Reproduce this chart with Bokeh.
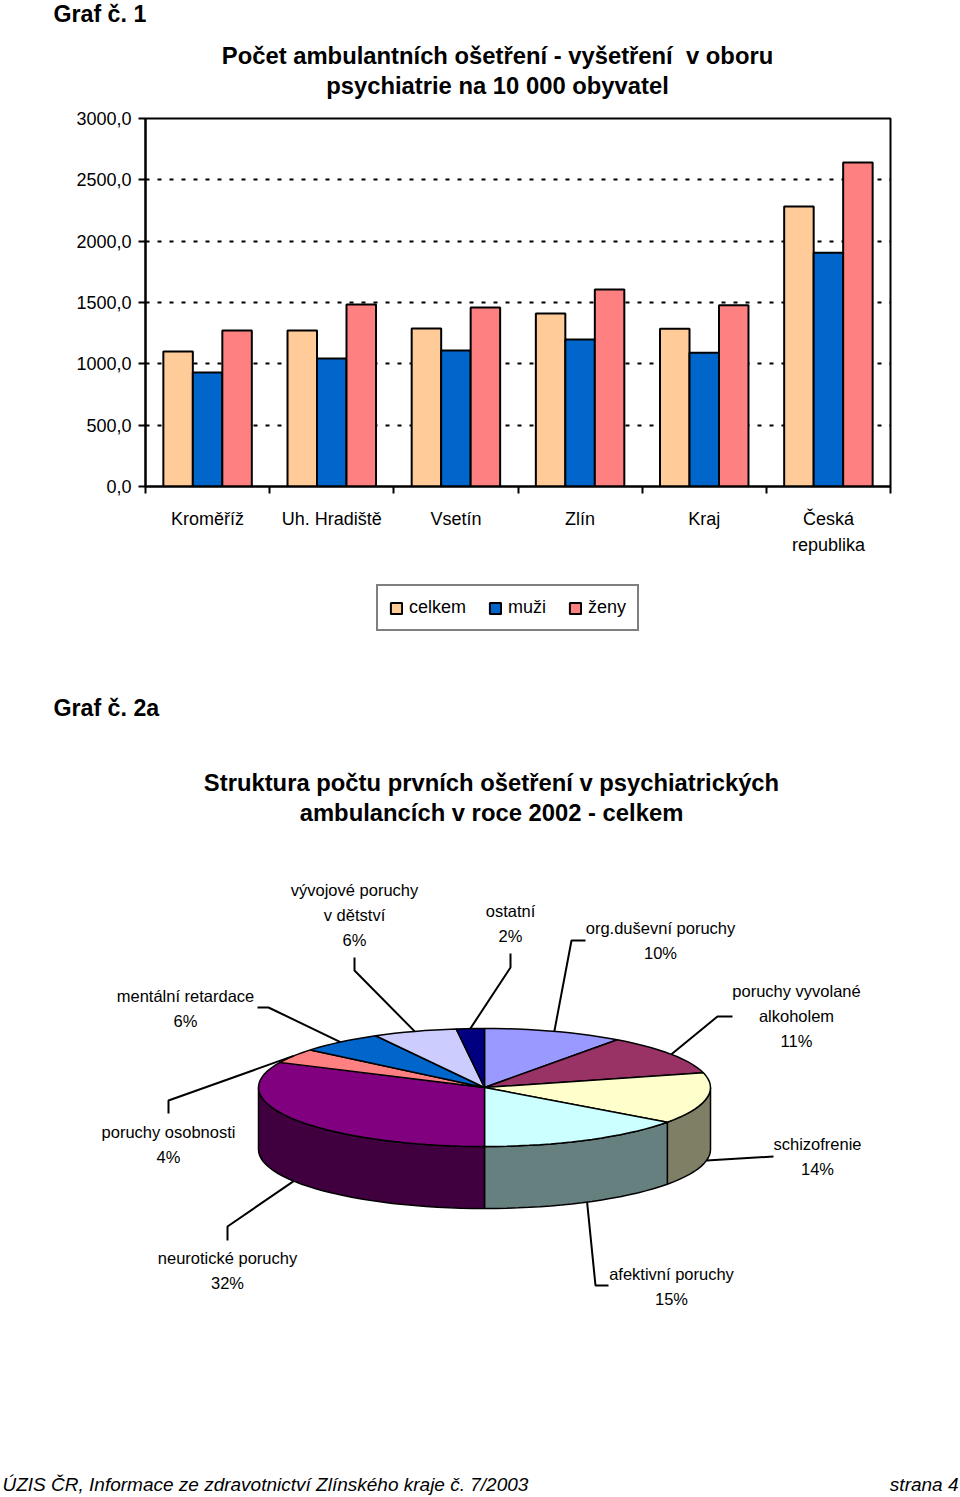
import math
from bokeh.plotting import figure
from bokeh.models import Range1d, FixedTicker, Legend, LegendItem
from bokeh.layouts import column
from bokeh.embed import file_html
from bokeh.resources import INLINE
from bokeh.core.properties import value

# ---------------- data ----------------
districts = ["Kroměříž", "Uh. Hradiště", "Vsetín", "Zlín", "Kraj", "Česká\nrepublika"]
series_names = ["celkem", "muži", "ženy"]
celkem = [1100, 1272, 1288, 1410, 1285, 2283]
muzi = [929, 1043, 1109, 1198, 1090, 1905]
zeny = [1272, 1484, 1459, 1606, 1478, 2641]
y_ticks = [0, 500, 1000, 1500, 2000, 2500, 3000]
y_tick_labels = ["0,0", "500,0", "1000,0", "1500,0", "2000,0", "2500,0", "3000,0"]

pie_labels = ["org.duševní poruchy", "poruchy vyvolané\nalkoholem", "schizofrenie",
              "afektivní poruchy", "neurotické poruchy", "poruchy osobnosti",
              "mentální retardace", "vývojové poruchy\nv dětství", "ostatní"]
pie_pct = [10, 11, 14, 15, 32, 4, 6, 6, 2]

title1 = ["Počet ambulantních ošetření - vyšetření\u00a0 v oboru", "psychiatrie na 10 000 obyvatel"]
title2 = ["Struktura počtu prvních ošetření v psychiatrických", "ambulancích v roce 2002 - celkem"]

# ---------------- styles ----------------
SANS = "Liberation Sans"
bar_colors = ["#FFCC99", "#0066CC", "#FF8080"]
pie_colors = ["#9999FF", "#993366", "#FFFFCC", "#CCFFFF", "#800080",
              "#FF8080", "#0066CC", "#CCCCFF", "#000080"]
W = 960


def darker(hexc):
    r, g, b = int(hexc[1:3], 16), int(hexc[3:5], 16), int(hexc[5:7], 16)
    return "#%02X%02X%02X" % (r // 2, g // 2, b // 2)


def blank(h):
    f = figure(width=W, height=h, x_range=Range1d(0, W), y_range=Range1d(h, 0),
               x_axis_type=None, y_axis_type=None, toolbar_location=None,
               output_backend="svg", min_border=0)
    f.outline_line_color = None
    f.frame_align = False
    return f


# ---------------- header of chart 1 ----------------
HDR_H = 100
hdr = blank(HDR_H)
hdr.text(x=[53], y=[13], text=["Graf č. 1"], text_font=value(SANS), text_font_style="bold",
         text_font_size="23.2px", text_baseline="middle", text_color="black")
hdr.text(x=[497, 497], y=[55, 85], text=title1, text_font=value(SANS), text_font_style="bold",
         text_font_size="23.8px", text_align="center", text_baseline="middle", text_color="black")

# ---------------- bar chart ----------------
BAR_TOP = 100
BAR_H = 470
p = figure(width=W, height=BAR_H, x_range=Range1d(0, 6), y_range=Range1d(0, 3000),
           toolbar_location=None, output_backend="svg",
           min_border_left=145, min_border_right=W - 890, min_border_top=118 - BAR_TOP,
           min_border_bottom=BAR_TOP + BAR_H - 486)
p.frame_align = False
bw = 0.2375
for k, vals in enumerate([celkem, muzi, zeny]):
    xs = [i + 0.5 + (k - 1) * bw for i in range(len(districts))]
    p.vbar(x=xs, top=vals, width=bw, fill_color=bar_colors[k], line_color="black", line_width=2)

p.outline_line_color = "black"
p.outline_line_width = 2
p.xgrid.visible = False
p.ygrid.ticker = FixedTicker(ticks=y_ticks)
p.ygrid.grid_line_color = "black"
p.ygrid.grid_line_width = 2
p.ygrid.grid_line_dash = "4 8"

p.yaxis.ticker = FixedTicker(ticks=y_ticks, minor_ticks=[])
p.yaxis.major_label_overrides = dict(zip(y_ticks, y_tick_labels))
p.yaxis.axis_line_width = 2
p.yaxis.major_tick_line_width = 2
p.yaxis.major_tick_out = 7
p.yaxis.major_tick_in = 0
p.yaxis.major_label_standoff = 7
p.yaxis.major_label_text_font = SANS
p.yaxis.major_label_text_font_size = "18px"
p.yaxis.major_label_text_color = "black"

centers = [i + 0.5 for i in range(len(districts))]
p.xaxis.ticker = FixedTicker(ticks=centers, minor_ticks=list(range(len(districts) + 1)))
p.xaxis.major_label_overrides = dict(zip(centers, districts))
p.xaxis.axis_line_width = 2
p.xaxis.major_tick_line_color = None
p.xaxis.major_tick_out = 7
p.xaxis.minor_tick_line_color = "black"
p.xaxis.minor_tick_line_width = 2
p.xaxis.minor_tick_out = 7
p.xaxis.minor_tick_in = 0
p.xaxis.major_label_standoff = 15
p.xaxis.major_label_text_font = SANS
p.xaxis.major_label_text_font_size = "18px"
p.xaxis.major_label_text_line_height = 1.3
p.xaxis.major_label_text_color = "black"

# ---------------- legend strip ----------------
LEG_TOP = BAR_TOP + BAR_H
LEG_H = 90
lg = blank(LEG_H)
leg_items = []
for k, s in enumerate(series_names):
    # legend proxy: same style as the bars, no visible bar
    r = lg.vbar(x=[0], top=[float("nan")], width=1, fill_color=bar_colors[k],
                line_color="black", line_width=2)
    leg_items.append(LegendItem(label=s, renderers=[r]))
legend = Legend(items=leg_items, orientation="horizontal",
                location=(376, LEG_TOP + LEG_H - 631),
                border_line_color="black", border_line_width=2,
                padding=11, spacing=22, label_standoff=6,
                glyph_width=14, glyph_height=14, label_height=18,
                label_text_font=SANS, label_text_font_size="18px",
                label_text_color="black", margin=0, background_fill_alpha=0)
lg.add_layout(legend)

# ---------------- pie chart ----------------
OY = LEG_TOP + LEG_H
PIE_H = 1497 - OY
q = blank(PIE_H)


def P(x, y):
    return x, y - OY


q.text(x=[53], y=[P(0, 707)[1]], text=["Graf č. 2a"], text_font=value(SANS), text_font_style="bold",
       text_font_size="23.2px", text_baseline="middle", text_color="black")
q.text(x=[491, 491], y=[P(0, 782)[1], P(0, 812)[1]], text=title2, text_font=value(SANS),
       text_font_style="bold", text_font_size="23.8px", text_align="center",
       text_baseline="middle", text_color="black")

cx, cy = P(484, 1087)
rx, ry, depth = 226, 59, 62


def ept(t, dy=0.0):
    return cx + rx * math.sin(t), cy - ry * math.cos(t) + dy


total = float(sum(pie_pct))
bounds = [0.0]
for v in pie_pct:
    bounds.append(bounds[-1] + 2 * math.pi * v / total)

side_xs, side_ys, side_cols = [], [], []
top_xs, top_ys = [], []
for i in range(len(pie_pct)):
    a0, a1 = bounds[i], bounds[i + 1]
    n = max(4, int(120 * (a1 - a0) / (2 * math.pi)) + 2)
    ts = [a0 + (a1 - a0) * j / (n - 1) for j in range(n)]
    pts = [ept(t) for t in ts]
    top_xs.append([cx] + [x for x, _ in pts])
    top_ys.append([cy] + [y for _, y in pts])
    lo, hi = max(a0, math.pi / 2), min(a1, 3 * math.pi / 2)
    if lo < hi:
        m = max(4, int(120 * (hi - lo) / (2 * math.pi)) + 2)
        ss = [lo + (hi - lo) * j / (m - 1) for j in range(m)]
        upper = [ept(t) for t in ss]
        lower = [ept(t, depth) for t in reversed(ss)]
        side_xs.append([x for x, _ in upper + lower])
        side_ys.append([y for _, y in upper + lower])
        side_cols.append(darker(pie_colors[i]))

q.patches(xs=side_xs, ys=side_ys, fill_color=side_cols, line_color="black", line_width=1.5)
q.patches(xs=top_xs, ys=top_ys, fill_color=pie_colors, line_color="black", line_width=1.5)

# label layout (page coords): text centre x, first line y, elbow points of leader line
label_pos = [(660, 927), (796, 990), (817, 1143), (671, 1273), (227, 1257),
             (168, 1131), (185, 995), (354, 889), (510, 910)]
elbows = [[(585, 940), (571, 940)], [(732, 1016), (717, 1016)], [(773, 1156)],
          [(608, 1285), (595, 1285)], [(227, 1240), (227, 1226)], [(168, 1113), (168, 1100)],
          [(257, 1007), (268, 1007)], [(354, 957), (354, 970)], [(510, 953), (510, 967)]]

tx, ty, tt = [], [], []
lxs, lys = [], []
for i, (lab, pct) in enumerate(zip(pie_labels, pie_pct)):
    lines = lab.split("\n") + ["%d%%" % pct]
    px, py = P(*label_pos[i])
    for j, ln in enumerate(lines):
        tx.append(px)
        ty.append(py + 25 * j)
        tt.append(ln)
    mid = (bounds[i] + bounds[i + 1]) / 2
    ax, ay = ept(mid, depth if math.pi / 2 < mid < 3 * math.pi / 2 else 0)
    e = [P(x, y) for x, y in elbows[i]]
    lxs.append([x for x, _ in e] + [ax])
    lys.append([y for _, y in e] + [ay])

q.multi_line(xs=lxs, ys=lys, line_color="black", line_width=2)
q.text(x=tx, y=ty, text=tt, text_font=value(SANS), text_font_size="16.5px",
       text_align="center", text_baseline="middle", text_color="black")

# footer
fy = P(0, 1484)[1]
q.text(x=[2], y=[fy], text=["ÚZIS ČR, Informace ze zdravotnictví Zlínského kraje č. 7/2003"],
       text_font=value(SANS), text_font_style="italic", text_font_size="19px",
       text_baseline="middle", text_color="black")
q.text(x=[958], y=[fy], text=["strana 4"], text_font=value(SANS), text_font_style="italic",
       text_font_size="19px", text_align="right", text_baseline="middle", text_color="black")

layout = column(hdr, p, lg, q, spacing=0)
open("out.html", "w").write(file_html(layout, INLINE))
